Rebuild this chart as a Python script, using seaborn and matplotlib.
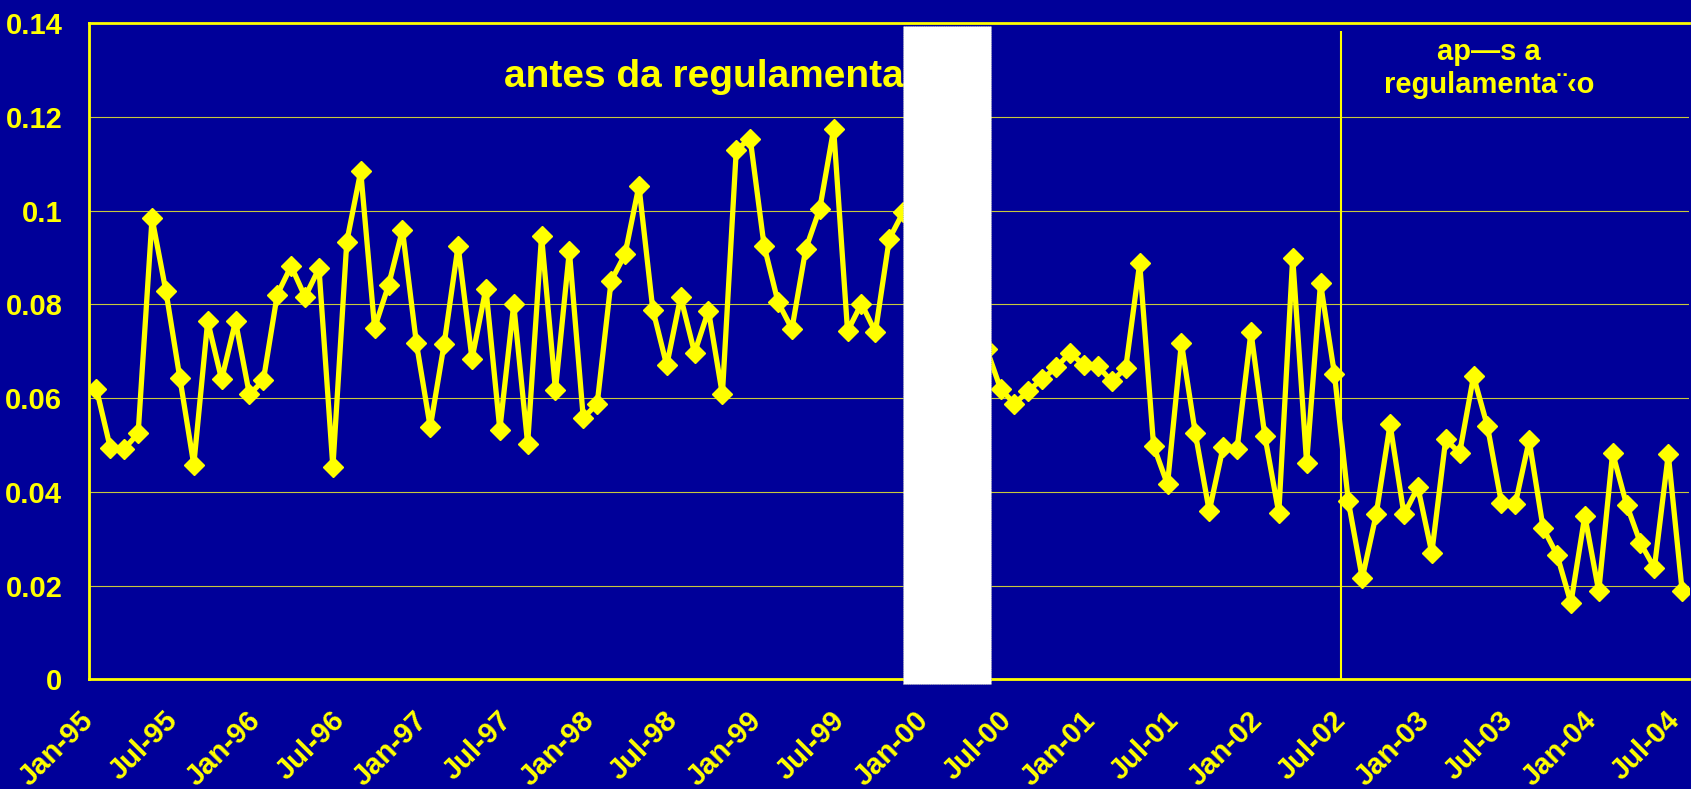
import matplotlib
matplotlib.use("Agg")
import matplotlib.pyplot as plt
import numpy as np
import pandas as pd
import seaborn as sns
from matplotlib.patches import Rectangle

# Série mensal jan/1995 - jul/2004
taxa_95_99 = [
    0.0620, 0.0494, 0.0492, 0.0525, 0.0984, 0.0828, 0.0643, 0.0458, 0.0764, 0.0640,
    0.0764, 0.0608, 0.0638, 0.0821, 0.0882, 0.0816, 0.0877, 0.0453, 0.0934, 0.1084,
    0.0750, 0.0841, 0.0959, 0.0718, 0.0538, 0.0716, 0.0925, 0.0684, 0.0834, 0.0533,
    0.0800, 0.0503, 0.0946, 0.0618, 0.0914, 0.0558, 0.0588, 0.0850, 0.0907, 0.1053,
    0.0789, 0.0670, 0.0816, 0.0697, 0.0787, 0.0608, 0.1130, 0.1154, 0.0925, 0.0805,
    0.0748, 0.0919, 0.1004, 0.1174, 0.0743, 0.0802, 0.0741, 0.0940, 0.0997,
]
# meses escondidos pelo retângulo branco (dez/99 - abr/00)
taxa_oculta = [None, None, None, None, None]
taxa_00_04 = [
    0.0705, 0.0620, 0.0588, 0.0616, 0.0641, 0.0666, 0.0697, 0.0670, 0.0668, 0.0636,
    0.0665, 0.0888, 0.0498, 0.0416, 0.0718, 0.0525, 0.0359, 0.0496, 0.0492, 0.0741,
    0.0519, 0.0355, 0.0900, 0.0462, 0.0845, 0.0652, 0.0380, 0.0216, 0.0352, 0.0544,
    0.0352, 0.0410, 0.0270, 0.0512, 0.0483, 0.0647, 0.0540, 0.0377, 0.0374, 0.0510,
    0.0323, 0.0266, 0.0163, 0.0349, 0.0188, 0.0483, 0.0373, 0.0291, 0.0238, 0.0480,
    0.0188,
]

rotulos_x = [
    "Jan-95", "Jul-95", "Jan-96", "Jul-96", "Jan-97", "Jul-97", "Jan-98", "Jul-98",
    "Jan-99", "Jul-99", "Jan-00", "Jul-00", "Jan-01", "Jul-01", "Jan-02", "Jul-02",
    "Jan-03", "Jul-03", "Jan-04", "Jul-04",
]
valores_y = [0, 0.02, 0.04, 0.06, 0.08, 0.1, 0.12, 0.14]
rotulos_y = ["0", "0.02", "0.04", "0.06", "0.08", "0.1", "0.12", "0.14"]

AZUL = "#000099"
AMARELO = "#FFFF00"

taxa = taxa_95_99 + taxa_oculta + taxa_00_04
df = pd.DataFrame({"mes": np.arange(len(taxa)) + 0.5,
                   "taxa": pd.to_numeric(pd.Series(taxa), errors="coerce")})

sns.set_theme(style="white")
plt.rcParams["font.family"] = ["Liberation Sans", "DejaVu Sans"]

fig = plt.figure(figsize=(16.91, 7.89), dpi=100, facecolor=AZUL)
ax = fig.add_axes([0.0529, 0.1389, 0.9460, 0.8316])
ax.set_facecolor(AZUL)

sns.lineplot(data=df, x="mes", y="taxa", ax=ax, color=AMARELO, linewidth=3.8,
             marker="D", markersize=10, markeredgecolor=AMARELO,
             markeredgewidth=1, zorder=3)

ax.set_xlim(0, len(taxa))
ax.set_ylim(0, 0.14)
ax.set_xlabel("")
ax.set_ylabel("")

ax.set_xticks(np.arange(0, len(taxa), 6))
ax.set_xticklabels(rotulos_x, rotation=45, ha="right", va="center",
                   rotation_mode="anchor", fontsize=21, fontweight="bold",
                   color=AMARELO)
ax.set_yticks(valores_y)
ax.set_yticklabels(rotulos_y, fontsize=21, fontweight="bold", color=AMARELO)
ax.tick_params(axis="x", colors=AMARELO, length=6.5, width=1.2,
               direction="out", pad=20)
ax.tick_params(axis="y", colors=AMARELO, length=6.5, width=1.2,
               direction="out", pad=13)

ax.grid(axis="y", color="#c8c83c", linewidth=0.8)
ax.grid(axis="x", visible=False)
for lado in ["left", "bottom", "top"]:
    ax.spines[lado].set_color(AMARELO)
    ax.spines[lado].set_linewidth(2)
ax.spines["right"].set_visible(False)

# linha da regulamentação (jul/2002)
ax.vlines(90, 0, 0.1383, color=AMARELO, linewidth=1.5, zorder=2)

ax.text(29.77, 0.1263, "antes da regulamentação", fontsize=28,
        fontweight="bold", color=AMARELO, ha="left", va="baseline", zorder=4)
ax.text(100.6, 0.1304, "ap—s a\nregulamenta¨‹o", fontsize=21,
        fontweight="bold", color=AMARELO, ha="center", va="center",
        multialignment="center", linespacing=1.25, zorder=4)

# retângulo branco que tapa parte do gráfico
ax.add_patch(Rectangle((58.51, -0.0009), 6.3, 0.1404, facecolor="white",
                       edgecolor="#b0b0b0", linewidth=0.6, linestyle=":",
                       zorder=6, clip_on=False))

fig.savefig("out.png", dpi=100, facecolor=AZUL)
